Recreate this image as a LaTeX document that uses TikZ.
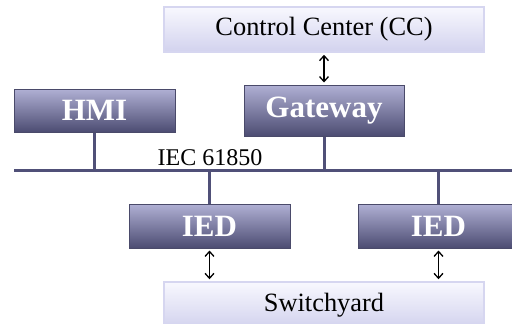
\documentclass[tikz,border=0pt]{standalone}
\usepackage{fontspec}
\setmainfont{Liberation Serif}
\usetikzlibrary{arrows.meta}
\definecolor{darktop}{RGB}{176,176,212}
\definecolor{darkbot}{RGB}{76,76,114}
\definecolor{darkedge}{RGB}{74,74,106}
\definecolor{lighttop}{RGB}{248,248,254}
\definecolor{lightbot}{RGB}{210,210,238}
\definecolor{lightedge}{RGB}{214,214,240}
\definecolor{buscol}{RGB}{80,80,120}
\tikzset{
  lightbox/.style={draw=lightedge, line width=1.5pt, top color=lighttop, bottom color=lightbot,
    minimum width=320pt, minimum height=45pt, inner sep=0pt, font=\fontsize{26.4}{30}\selectfont},
  darkbox/.style={draw=darkedge, line width=1pt, top color=darktop, bottom color=darkbot,
    minimum width=161pt, minimum height=44pt, inner sep=0pt, text=white,
    font=\fontsize{31}{34}\selectfont\bfseries},
  busline/.style={draw=buscol, line width=3pt},
  biarrow/.style={draw=black, line width=1.3pt, {Straight Barb[length=5pt,width=9pt]}-{Straight Barb[length=5pt,width=9pt]}, shorten <=2pt, shorten >=2pt}
}
\begin{document}
\begin{tikzpicture}[x=1pt,y=-1pt]
\useasboundingbox (0,0) rectangle (512,324);
\clip (0,0) rectangle (512,324);
\node[lightbox] (cc) at (324,29.5) {Control Center (CC)};
\node[darkbox, minimum width=160pt, minimum height=51pt] (gw) at (324,110.5) {Gateway};
\node[darkbox, minimum height=43pt] (hmi) at (94.5,110.5) {HMI};
\node[darkbox] (ied1) at (209.5,226) {IED};
\node[darkbox] (ied2) at (438.5,226) {IED};
\node[lightbox, minimum height=46pt] (sw) at (324,305) {Switchyard};
\coordinate (busL) at (14,170);
\coordinate (busR) at (520,170);
\draw[busline] (busL) -- (busR);
\draw[busline] (hmi.south) -- (hmi.south |- busL);
\draw[busline] (gw.south) -- (gw.south |- busL);
\draw[busline] (ied1.north) -- (ied1.north |- busL);
\draw[busline] (ied2.north) -- (ied2.north |- busL);
\node[font=\fontsize{24}{26}\selectfont, inner sep=0pt] (iec) at (210,158) {IEC 61850};
\draw[biarrow] (cc.south) -- (gw.north);
\draw[biarrow] (ied1.south) -- (ied1.south |- sw.north);
\draw[biarrow] (ied2.south) -- (ied2.south |- sw.north);
\end{tikzpicture}
\end{document}
